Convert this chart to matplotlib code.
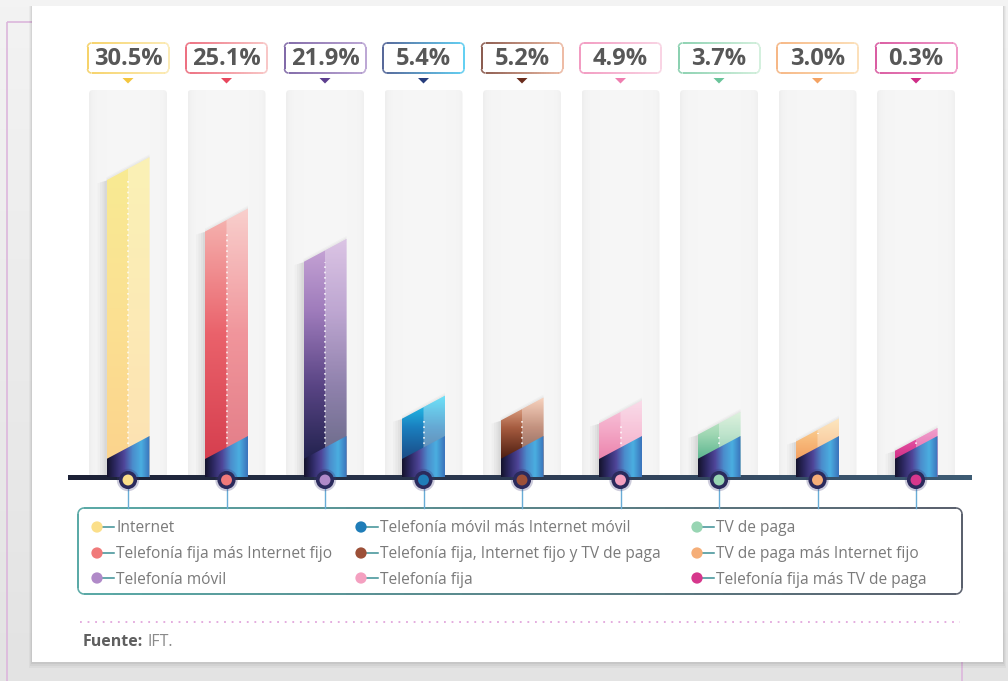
import numpy as np
import matplotlib.pyplot as plt
from matplotlib.patches import Rectangle, FancyBboxPatch, Polygon
from matplotlib.collections import LineCollection
from matplotlib.colors import LinearSegmentedColormap, to_rgb

plt.rcParams['font.family'] = ['Open Sans', 'DejaVu Sans']

# -------------------------
# Data
# -------------------------
categories = ["Internet", "Telefonía fija más Internet fijo", "Telefonía móvil",
              "Telefonía móvil más Internet móvil", "Telefonía fija, Internet fijo y TV de paga",
              "Telefonía fija", "TV de paga", "TV de paga más Internet fijo",
              "Telefonía fija más TV de paga"]
values = [30.5, 25.1, 21.9, 5.4, 5.2, 4.9, 3.7, 3.0, 0.3]

# bar gradients, bottom -> top
bar_stops = [["#fcd48d", "#fbe192", "#f8eb93"],
             ["#d63f4f", "#ea626b", "#f6b8b4"],
             ["#232350", "#5a4585", "#9e7bbb", "#caa8d8"],
             ["#1b4c86", "#1a7fbf", "#27d4f7"],
             ["#4d1d10", "#a55b3f", "#f5bea0"],
             ["#ec84ad", "#f4a9c7", "#f8cadf"],
             ["#5cb690", "#9dd6b2", "#cfeccf"],
             ["#f3a061", "#f8bd7e", "#fcdba0"],
             ["#d12f87", "#e04a9c", "#ec6fb4"]]
pin_colors = ["#fbdf8a", "#f07a7a", "#b08ac8", "#1f7db8", "#9c5038",
              "#f4a0c0", "#98d5b3", "#f5ae78", "#d6378c"]
edge_left = ["#f4c63e", "#e8475d", "#5d3f8f", "#263c7c", "#6a2c1c",
             "#ef7eb0", "#6ac49a", "#f4a363", "#cf2d87"]
edge_right = ["#fbe6a2", "#f7b6b6", "#a98ec9", "#36c2ef", "#e9a88b",
              "#f8c8dc", "#c8ecd4", "#fcd7a5", "#ec7cb9"]

# -------------------------
# Layout helpers
# -------------------------
SX = 98.5   # px per category
SY = 9.5    # px per percentage point
X0 = 128    # px centre of first category
Y0 = 477    # px baseline
W, H = 1008, 681


def rrect(x0, y0, x1, y1, r, n=10, k=30):
    pts = []
    corners = [(x1 - r, y1 - r, 0), (x0 + r, y1 - r, 90),
               (x0 + r, y0 + r, 180), (x1 - r, y0 + r, 270)]
    for cx, cy, a0 in corners:
        a = np.radians(np.linspace(a0, a0 + 90, n))
        pts.extend(zip(cx + r * np.cos(a), cy + r * np.sin(a)))
    pts.append(pts[0])
    pts = np.array(pts)
    dense = []
    for p, q in zip(pts[:-1], pts[1:]):
        m = k if np.hypot(*(q - p)) > 2 * r else 2
        for t in np.linspace(0, 1, m, endpoint=False):
            dense.append(p + (q - p) * t)
    dense.append(pts[-1])
    return np.array(dense)


def grad_outline(axis, pts, c0, c1, lw, zorder=5):
    segs = np.stack([pts[:-1], pts[1:]], axis=1)
    mx = segs.mean(axis=1)[:, 0]
    t = (mx - mx.min()) / (mx.max() - mx.min())
    a, b = np.array(to_rgb(c0)), np.array(to_rgb(c1))
    cols = a[None] * (1 - t[:, None]) + b[None] * t[:, None]
    lc = LineCollection(segs, colors=cols, linewidths=lw, zorder=zorder)
    lc.set_clip_on(False)
    axis.add_collection(lc)


fig = plt.figure(figsize=(W / 100, H / 100), dpi=100)

# background / page in pixel coordinates
bg = fig.add_axes([0, 0, 1, 1])
bg.set_xlim(0, W)
bg.set_ylim(H, 0)
bg.axis('off')
grad = np.linspace(0, 1, 100)[:, None]
bg.imshow(grad, cmap=LinearSegmentedColormap.from_list("pg", ["#f3f3f3", "#e3e3e3"]),
          extent=(0, W, H, 0), aspect='auto', zorder=0)
bg.add_patch(Rectangle((7, 22), 955, 700, facecolor='none', edgecolor='#dcb6dc', lw=1.2, zorder=1))
for d, al in [(6, 0.03), (4, 0.04), (2, 0.05)]:
    bg.add_patch(Rectangle((32 - d / 2, 6), 971 + d, 656 + d, facecolor='#000000', alpha=al,
                           edgecolor='none', zorder=2))
bg.add_patch(Rectangle((32, 6), 971, 656, facecolor='white', edgecolor='none', zorder=3))

# legend box
lpts = rrect(78, 508, 962, 594, 6)
grad_outline(bg, lpts, "#2a918d", "#2a3142", 1.1)
leg_x = [97, 361, 697]
leg_y = [527, 553, 578]
for i, name in enumerate(categories):
    cx, cy = leg_x[i // 3], leg_y[i % 3]
    bg.plot([cx + 4, cx + 17], [cy, cy], color='#3c8f95', lw=1.1, zorder=6)
    bg.scatter([cx], [cy], s=66, color=pin_colors[i], edgecolor='none', zorder=7)
    bg.text(cx + 19, cy + 1.5, name, va='center', ha='left', fontsize=11.2, color='#7a7a7a', zorder=7)

bg.plot([80, 960], [622, 622], color='#e2a6dc', lw=1.3, ls=(0, (1, 3.2)), zorder=5)
t1 = bg.text(83, 642, "Fuente:", fontsize=11.5, fontweight='bold', color='#5f5f5f',
             va='center', ha='left', zorder=6)
bg.annotate("IFT.", xy=(1, 0.5), xycoords=t1, xytext=(3, 0), textcoords='offset points',
            fontsize=11.5, color='#8a8a8a', va='center', ha='left', zorder=6)

# main chart axes in data coordinates
ymax = (Y0 - 88) / SY
ax = fig.add_axes([(X0 - 0.5 * SX) / W, (H - Y0) / H, 9 * SX / W, (Y0 - 88) / H])
ax.axis('off')

hw = 21.5 / SX
slant = 23 / SY
off = 30 / SY
band_r = 41 / SY
band_l = band_r - slant
min_top = band_r + 8 / SY
track_top = (Y0 - 90) / SY
band_cmap = LinearSegmentedColormap.from_list(
    "band", ["#15142e", "#2f2a66", "#4f4699", "#4b8ccc", "#4aaee0", "#3b74bc"])
track_profile = np.linspace(0, 1, 60)
tp = 0.965 - 0.03 * np.exp(-track_profile / 0.05) - 0.022 * np.exp(-(1 - track_profile) / 0.05)
track_img = np.repeat(tp[None, :, None], 3, axis=2)

for i, v in enumerate(values):
    # background track
    trk = FancyBboxPatch((i - 39 / SX, 0), 78 / SX, track_top,
                         boxstyle="round,pad=0,rounding_size=%f" % (4 / SX),
                         mutation_aspect=SX / SY, facecolor='none', edgecolor='none',
                         transform=ax.transData)
    ax.add_patch(trk)
    im = ax.imshow(track_img, extent=(i - 39 / SX, i + 39 / SX, 0, track_top),
                   aspect='auto', zorder=1, interpolation='bilinear')
    im.set_clip_path(trk)

    top_r = max(v + off, min_top)
    top_l = top_r - slant
    xl, xr = i - hw, i + hw

    # soft shadow, mostly on the left side
    for d, al in [(9, 0.03), (6.5, 0.035), (4, 0.04), (2, 0.05)]:
        ax.add_patch(Polygon([(xl - d / SX, 0), (xl + 2 / SX, 0), (xl + 2 / SX, top_l),
                              (xl - d / SX, top_l - d / 3 / SY)],
                             closed=True, facecolor='#404040', alpha=al, edgecolor='none', zorder=2))
    for d, al in [(3, 0.03), (1.5, 0.04)]:
        ax.add_patch(Polygon([(xl, top_l - 1 / SY), (xl, top_l + d / SY), (xr, top_r + d / SY),
                              (xr, top_r - 1 / SY)],
                             closed=True, facecolor='#404040', alpha=al, edgecolor='none', zorder=2))

    # bar body
    body = Polygon([(xl, 0), (xr, 0), (xr, top_r), (xl, top_l)], closed=True,
                   facecolor='none', edgecolor='none', transform=ax.transData)
    ax.add_patch(body)
    ys = np.linspace(0, top_r, 120)
    tt = np.clip((ys - band_l) / (top_r - band_l), 0, 1)
    cm = LinearSegmentedColormap.from_list("b%d" % i, bar_stops[i])
    img = cm(tt)[:, None, :3]
    im = ax.imshow(img, extent=(xl, xr, 0, top_r), origin='lower', aspect='auto',
                   zorder=4, interpolation='bilinear')
    im.set_clip_path(body)
    ax.add_patch(Polygon([(i, 0), (xr, 0), (xr, top_r), (i, top_r - slant / 2)], closed=True,
                         facecolor='white', alpha=0.33, edgecolor='none', zorder=5))
    y_lo = band_l + slant / 2 + 0.4
    y_hi = top_r - slant / 2 - 1.2
    if y_hi < y_lo + 0.3:
        y_lo, y_hi = top_r - slant / 2 - 0.45, top_r - slant / 2 - 0.3
    ax.plot([i, i], [y_lo, y_hi], color='white', lw=1.2, ls=(0, (1, 2.2)), alpha=0.85, zorder=6)

    # bottom band
    band = Polygon([(xl, 0), (xr, 0), (xr, band_r), (xl, band_l)], closed=True,
                   facecolor='none', edgecolor='none', transform=ax.transData)
    ax.add_patch(band)
    im = ax.imshow(np.linspace(0, 1, 80)[None, :], cmap=band_cmap, extent=(xl, xr, 0, band_r),
                   aspect='auto', zorder=7, interpolation='bilinear')
    im.set_clip_path(band)

    # value label
    yc = (Y0 - 58) / SY
    p = rrect(-40.5, -15, 40.5, 15, 4)
    bx = i + p[:, 0] / SX
    by = yc + p[:, 1] / SY
    ax.add_patch(Polygon(np.c_[bx, by], closed=True, facecolor='white', edgecolor='none',
                         zorder=8, clip_on=False))
    grad_outline(ax, np.c_[bx, by], edge_left[i], edge_right[i], 1.1, zorder=9)
    ax.text(i, yc - 0.1, "%.1f%%" % v, ha='center', va='center', fontsize=17,
            fontweight='bold', color='#575757', zorder=10)
    ax.add_patch(Polygon([(i - 5.5 / SX, (Y0 - 78) / SY), (i + 5.5 / SX, (Y0 - 78) / SY),
                          (i, (Y0 - 83.5) / SY)], closed=True, facecolor=edge_left[i],
                         edgecolor='none', zorder=8, clip_on=False))

# baseline
base = ax.imshow(np.linspace(0, 1, 100)[None, :],
                 cmap=LinearSegmentedColormap.from_list("bl", ["#1c2136", "#2c3a52", "#3e5c74"]),
                 extent=((68 - X0) / SX, (972 - X0) / SX, -3 / SY, 2 / SY), aspect='auto',
                 zorder=3, interpolation='bilinear')
base.set_clip_on(False)

# pins and connectors
xs = np.arange(len(values))
pin_y = np.full(len(values), -3 / SY)
for i in xs:
    ax.plot([i, i], [-8 / SY, -(508 - Y0) / SY], color='#68acd6', lw=1.0, zorder=8, clip_on=False)
ax.scatter(xs, pin_y, s=260, color='#3a3674', alpha=0.25, edgecolor='none', zorder=9, clip_on=False)
ax.scatter(xs, pin_y, s=170, color='#2b2a5c', edgecolor='none', zorder=10, clip_on=False)
ax.scatter(xs, pin_y, s=62, color=pin_colors, edgecolor='none', zorder=11, clip_on=False)

ax.set_xlim(-0.5, 8.5)
ax.set_ylim(0, ymax)

fig.savefig("out.png", dpi=100)
